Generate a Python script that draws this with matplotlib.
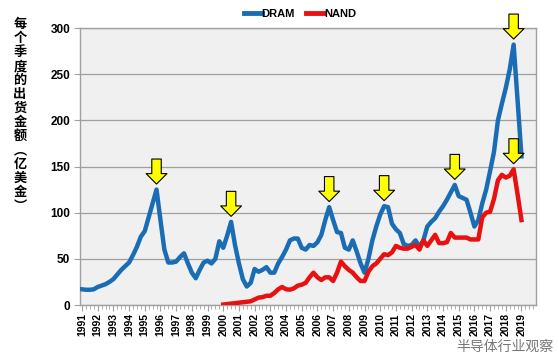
import matplotlib
matplotlib.use("Agg")
import matplotlib.pyplot as plt
import numpy as np

# ---- data (quarterly, 1991Q1 .. 2019Q1), values in 亿美金 ----
years = list(range(1991, 2020))
dram = [17, 16.5, 16.5, 17, 19.5, 21, 22.5, 25, 28, 33, 38, 42, 46, 54, 63, 74,
        80, 95, 110, 125, 92, 60, 46, 46, 47, 52, 56, 45, 35, 29, 38, 46,
        48, 45, 50, 69, 62, 75, 90, 65, 45, 28, 20, 24, 39, 36, 38, 41,
        35, 35, 45, 52, 60, 70, 72, 72, 62, 60, 65, 64, 68, 76, 92, 106,
        92, 79, 78, 62, 60, 70, 58, 45, 35, 50, 70, 85, 98, 107, 106, 88,
        82, 78, 66, 64, 65, 70, 63, 70, 85, 90, 94, 101, 107, 114, 122, 130,
        118, 116, 114, 100, 85, 92, 110, 125, 145, 166, 200, 218, 235, 255, 282, 222,
        161]
nand_start = 36  # 2000Q1
nand = [0.5, 1, 1.5, 2, 2.5, 3, 3.5, 4, 6, 8, 8.5, 10,
        10, 13, 17, 19.5, 17, 16.6, 18, 21, 22, 24, 30, 35,
        30, 27, 30, 30, 26, 35, 47, 42, 38, 35, 30, 26,
        26, 36, 42, 45, 50, 55, 54, 57, 64, 62, 61, 61,
        63, 65, 60, 70, 64, 70, 76, 67, 67, 68, 78, 73,
        73, 73, 73, 71, 71, 71, 95, 100, 101, 115, 135, 141,
        138, 140, 147, 120, 92]
dram_peaks = [19, 38, 63, 77, 95, 110]
nand_peaks = [110]

series_names = ["DRAM", "NAND"]
ylabel = "每个季度的出货金额︵亿美金︶"
watermark = "半导体行业观察"

plt.rcParams['font.family'] = ['Liberation Sans', 'Noto Sans CJK SC', 'DejaVu Sans']

fig = plt.figure(figsize=(5.59, 3.56), dpi=100)
ax = fig.add_axes([80/559, 1-305/356, 456/559, 277/356])
ax.set_facecolor('#f0f0f0')

x_dram = np.arange(len(dram))
x_nand = np.arange(nand_start, nand_start + len(nand))
ax.plot(x_dram, dram, color='#1a6db5', lw=3.2, solid_joinstyle='round', label=series_names[0], zorder=3)
ax.plot(x_nand, nand, color='#e81010', lw=3.2, solid_joinstyle='round', label=series_names[1], zorder=3)

arrow_kw = dict(arrowstyle='simple,head_width=1.5,head_length=0.75,tail_width=0.68',
                fc='#ffff00', ec='black', lw=0.8, shrinkA=0, shrinkB=4, mutation_scale=10)
for i in dram_peaks:
    ax.annotate('', xy=(i, dram[i]), xytext=(0, 22), textcoords='offset points',
                arrowprops=arrow_kw, zorder=5, annotation_clip=False)
for i in nand_peaks:
    ax.annotate('', xy=(i, nand[i - nand_start]), xytext=(0, 22), textcoords='offset points',
                arrowprops=arrow_kw, zorder=5, annotation_clip=False)

ax.set_ylim(0, 300)
ax.set_xlim(-0.5, 115.7)
ax.set_yticks(range(0, 301, 50))
ax.yaxis.grid(True, color='#a0a0a0', lw=0.9)
ax.set_axisbelow(True)
ax.tick_params(axis='y', length=4, color='#a0a0a0', labelsize=8.5, pad=3)
for t in ax.get_yticklabels():
    t.set_fontweight('bold')

ax.set_xticks([4 * k for k in range(len(years))])
ax.set_xticklabels([str(y) for y in years], rotation=90, fontsize=7.5, fontweight='bold')
ax.set_xticks(np.arange(0, 116, 1), minor=True)
ax.tick_params(axis='x', which='major', length=4, color='#a0a0a0', pad=2)
ax.tick_params(axis='x', which='minor', length=3, color='#a0a0a0')
for s in ax.spines.values():
    s.set_color('#a0a0a0')
    s.set_linewidth(1)

leg = fig.legend(loc='center', bbox_to_anchor=(300/559, 1-14/356), ncol=2, frameon=False,
                 prop=dict(weight='bold', size=8), handlelength=1.6, handletextpad=0.0,
                 columnspacing=1.0)
for l in leg.get_lines():
    l.set_linewidth(3.5)

fig.text(20/559, 1-115/356, "\n".join(ylabel), ha='center', va='center',
         family=['Noto Sans CJK SC'], fontweight='bold', fontsize=9.5, linespacing=1.0)

fig.text(505/559, 1-347/356, watermark, ha='center', va='center', color='#777777',
         family=['Noto Sans CJK SC'], fontsize=10)

fig.savefig('out.png', dpi=100)
